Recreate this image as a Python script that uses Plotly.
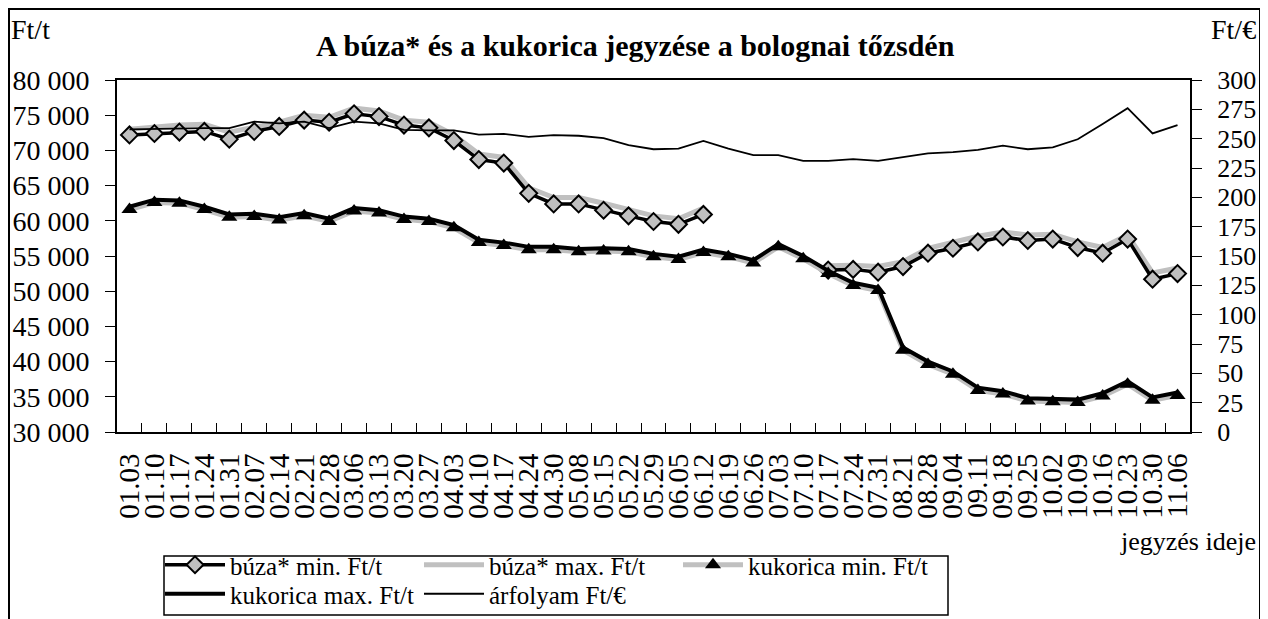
import plotly.graph_objects as go

# ----------------------------
# DATA
# ----------------------------

dates = [
    "01.03", "01.10", "01.17", "01.24", "01.31", "02.07", "02.14", "02.21",
    "02.28", "03.06", "03.13", "03.20", "03.27", "04.03", "04.10", "04.17",
    "04.24", "04.30", "05.08", "05.15", "05.22", "05.29", "06.05", "06.12",
    "06.19", "06.26", "07.03", "07.10", "07.17", "07.24", "07.31", "08.21",
    "08.28", "09.04", "09.11", "09.18", "09.25", "10.02", "10.09", "10.16",
    "10.23", "10.30", "11.06",
]

buza_min = [
    72200, 72400, 72600, 72700, 71600, 72700, 73400, 74300, 74000, 75200,
    74800, 73600, 73200, 71400, 68700, 68200, 63900, 62400, 62400, 61500,
    60700, 59900, 59500, 60900, None, None, None, None, 53000, 53100,
    52700, 53500, 55400, 56100, 57000, 57700, 57200, 57400, 56200, 55400,
    57400, 51700, 52500,
]

buza_max = [
    73000, 73300, 73600, 73700, 72600, 73300, 74000, 75000, 74700, 76000,
    75600, 74300, 74000, 72200, 69500, 69000, 64700, 63300, 63300, 62500,
    61600, 60700, 60300, 61800, None, None, None, None, 53600, 53700,
    53500, 54200, 56100, 56900, 57800, 58400, 58000, 58100, 57000, 56200,
    58000, 52600, 53300,
]

kukorica_min = [
    61600, 62600, 62500, 61600, 60500, 60600, 60100, 60700, 59900, 61400,
    61100, 60200, 59900, 59000, 56900, 56500, 55900, 55900, 55600, 55700,
    55600, 54900, 54500, 55500, 54900, 54000, 56300, 54600, 52500, 50800,
    50100, 41600, 39600, 38200, 35900, 35400, 34400, 34300, 34200, 35100,
    36800, 34500, 35200,
]

kukorica_max = [
    62000, 63000, 62900, 62000, 60900, 61000, 60500, 61100, 60300, 61800,
    61500, 60600, 60300, 59400, 57300, 56900, 56300, 56300, 56000, 56100,
    56000, 55300, 54900, 55900, 55300, 54400, 56700, 55000, 52900, 51200,
    50500, 42000, 40000, 38600, 36300, 35800, 34800, 34700, 34600, 35500,
    37200, 34900, 35600,
]

arfolyam = [
    258, 258.5, 258.5, 259, 259, 264.5, 263, 264.5, 259, 264.5,
    263, 257.5, 257, 257, 253.5, 254, 251.5, 253, 252.5, 250.5,
    244.5, 241, 241.5, 248, 241.5, 236, 236, 231, 231, 232.5,
    231, 234, 237.5, 238.5, 240.5, 244, 241, 242.5, 249.5, 262.5,
    276, 254.5, 261.5,
]

FONT = "Liberation Serif, Times New Roman, serif"
GRAY = "#c0c0c0"

fig = go.Figure()

# gray wheat max line under the black min line
fig.add_trace(go.Scatter(
    x=dates, y=buza_max, mode="lines", name="búza* max. Ft/t",
    line=dict(color=GRAY, width=5), legend="legend", legendrank=2,
))
fig.add_trace(go.Scatter(
    x=dates, y=buza_min, mode="lines+markers", name="búza* min. Ft/t",
    line=dict(color="black", width=3.5),
    marker=dict(symbol="diamond", size=13, color=GRAY,
                line=dict(color="black", width=2)),
    legend="legend", legendrank=1,
))
fig.add_trace(go.Scatter(
    x=dates, y=kukorica_min, mode="lines+markers", name="kukorica min. Ft/t",
    line=dict(color=GRAY, width=5),
    marker=dict(symbol="triangle-up", size=14, color="black"),
    legend="legend", legendrank=3,
))
fig.add_trace(go.Scatter(
    x=dates, y=kukorica_max, mode="lines", name="kukorica max. Ft/t",
    line=dict(color="black", width=4), legend="legend2", legendrank=4,
))
fig.add_trace(go.Scatter(
    x=dates, y=arfolyam, mode="lines", name="árfolyam Ft/€", yaxis="y2",
    line=dict(color="black", width=1.8), legend="legend2", legendrank=5,
))

# page has an 8px body margin, so work in page pixels and shift
OFF = 8
W, H = 1268 - OFF, 619 - OFF
L, R, T, B = 117 - OFF, 1190 - OFF, 80 - OFF, 432 - OFF


def px(x):
    return (x - OFF - L) / (R - L)


def py(y):
    return (B - (y - OFF)) / (B - T)


def cy(y):
    return 1 - (y - OFF) / H


legend_common = dict(
    orientation="h", xanchor="left", yanchor="top", yref="container",
    font=dict(family=FONT, size=25, color="black"),
    bgcolor="rgba(0,0,0,0)", itemwidth=60, entrywidth=184,
    tracegroupgap=0,
)

fig.update_layout(
    width=W, height=H,
    margin=dict(l=L, r=W - R, t=T, b=H - B, autoexpand=False),
    paper_bgcolor="white", plot_bgcolor="white",
    font=dict(family=FONT, size=28, color="black"),
    separators=", ",
    xaxis=dict(
        type="category", tickmode="linear", dtick=1, tickangle=-90,
        tickson="boundaries", ticks="inside", ticklen=9, tickcolor="black",
        showline=True, linecolor="black", linewidth=2, mirror=True,
        showgrid=False, tickfont=dict(size=29), ticklabelstandoff=8,
        range=[-0.5, len(dates) - 0.5], automargin=False,
    ),
    yaxis=dict(
        range=[30000, 80000], dtick=5000, tickformat=",d",
        ticks="outside", ticklen=10, tickcolor="black",
        showline=True, linecolor="black", linewidth=2, mirror=True,
        showgrid=False, zeroline=False, ticklabelstandoff=10,
        automargin=False,
    ),
    yaxis2=dict(
        range=[0, 300], dtick=25, overlaying="y", side="right",
        ticks="outside", ticklen=10, tickcolor="black",
        showline=True, linecolor="black", linewidth=2,
        showgrid=False, zeroline=False, ticklabelstandoff=10,
        tickfont=dict(size=26), automargin=False,
    ),
    legend=dict(x=px(160), y=cy(542), **legend_common),
    legend2=dict(x=px(160), y=cy(571), **legend_common),
    showlegend=True,
)

# outer frame of the chart
fig.add_shape(type="rect", xref="paper", yref="paper",
              x0=px(OFF + 1), x1=px(1260), y0=py(700), y1=py(OFF + 1),
              line=dict(color="black", width=2), layer="below")
# legend box
fig.add_shape(type="rect", xref="paper", yref="paper",
              x0=px(164), x1=px(948), y0=py(615), y1=py(556),
              line=dict(color="black", width=1.5), layer="below")

fig.add_annotation(
    text="<b>A búza* és a kukorica jegyzése a bolognai tőzsdén</b>",
    xref="paper", yref="paper", x=px(635), y=py(45), yanchor="middle",
    showarrow=False, font=dict(size=30),
)
fig.add_annotation(text="Ft/t", xref="paper", yref="paper",
                   x=px(9), y=py(30), xanchor="left", yanchor="middle",
                   showarrow=False)
fig.add_annotation(text="Ft/€", xref="paper", yref="paper",
                   x=px(1258), y=py(30), xanchor="right", yanchor="middle",
                   showarrow=False)
fig.add_annotation(text="jegyzés ideje", xref="paper", yref="paper",
                   x=px(1258), y=py(541), xanchor="right", yanchor="middle",
                   showarrow=False, font=dict(size=26))

fig.write_html("out.html")
